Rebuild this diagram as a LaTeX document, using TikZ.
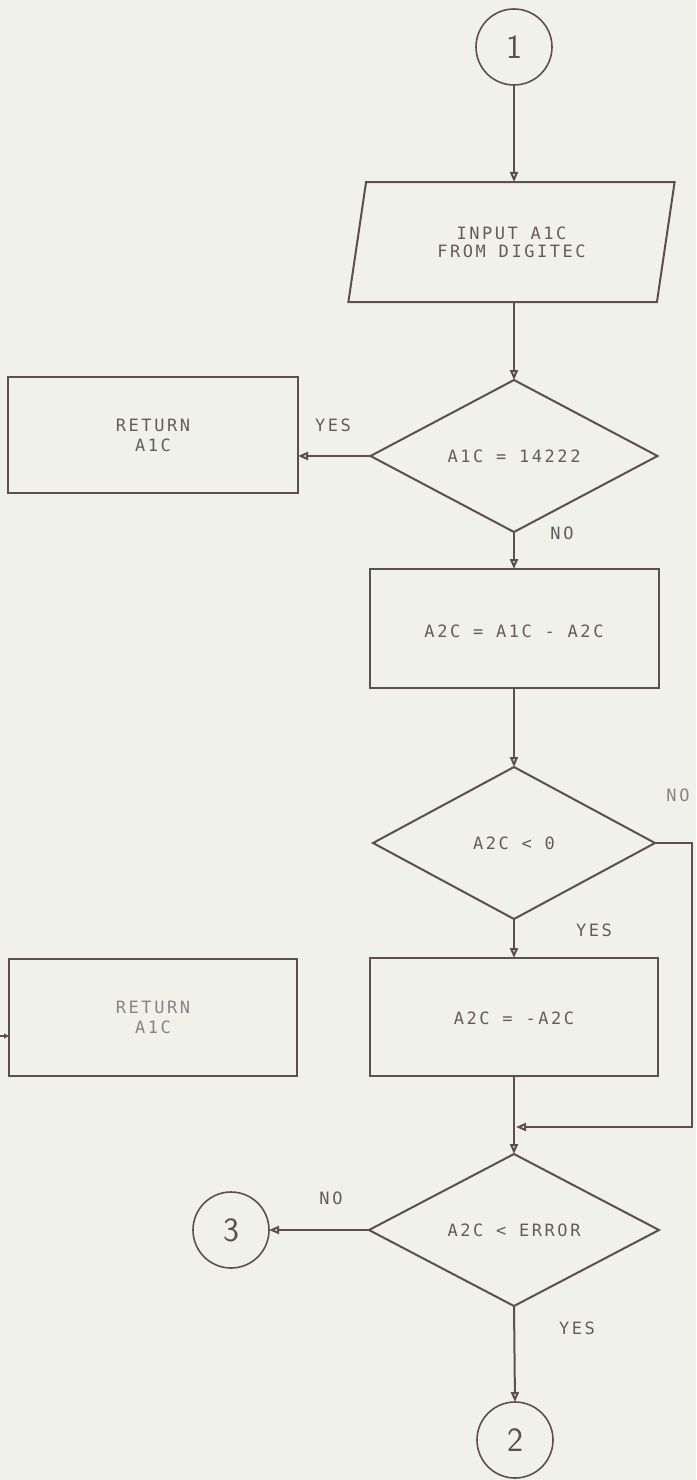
\documentclass[tikz,border=0pt]{standalone}
\usepackage{fontspec}
\usetikzlibrary{shapes.geometric,arrows.meta,calc}
\newfontfamily\dm[LetterSpace=15]{DejaVu Sans Mono}
\definecolor{bg}{HTML}{F1F1EC}
\definecolor{ink}{HTML}{5E4E50}
\definecolor{txt}{HTML}{655B5D}
\definecolor{faded}{HTML}{8A8284}
\tikzset{
  x=1pt, y=-1pt,
  every node/.style={inner sep=0pt, outer sep=0pt},
  conn/.style={circle, draw=ink, line width=1.6pt, minimum size=76pt,
    font=\sffamily\fontsize{34}{34}\selectfont, text=ink},
  proc/.style={rectangle, draw=ink, line width=2pt, align=center,
    font=\dm\fontsize{17}{20}\selectfont, text=txt},
  dec/.style={diamond, draw=ink, line width=2pt, align=center,
    font=\dm\fontsize{17}{20}\selectfont, text=txt},
  io/.style={trapezium, trapezium left angle=73.7, trapezium right angle=106.3,
    trapezium stretches=true, draw=ink, line width=2pt, align=center,
    font=\dm\fontsize{17}{18}\selectfont, text=txt},
  lab/.style={font=\dm\fontsize{17}{20}\selectfont, text=txt},
  arr/.style={draw=ink, line width=2pt,
    -{Triangle[open, length=10pt, width=8pt, fill=bg]}},
  ln/.style={draw=ink, line width=2pt}
}
\begin{document}
\begin{tikzpicture}
\fill[bg] (0,0) rectangle (696,1480);
\useasboundingbox (0,0) rectangle (696,1480);

% nodes
\node[conn] (c1) at (514,47) {1};
\node[io, minimum width=327pt, minimum height=120pt] (inp) at (511.5,242)
  {INPUT A1C\\FROM DIGITEC};
\node[dec, minimum width=287pt, minimum height=152pt] (d1) at (514,456) {A1C = 14222};
\node[proc, minimum width=290pt, minimum height=116pt] (r1) at (153,435) {RETURN\\A1C};
\node[proc, minimum width=289pt, minimum height=119pt] (b2) at (514,628.5)
  {\raisebox{-18pt}{A2C = A1C - A2C}};
\node[dec, minimum width=282pt, minimum height=152pt] (d2) at (514,843) {A2C < 0};
\node[proc, minimum width=288pt, minimum height=118pt] (b3) at (514,1017)
  {\raisebox{-16pt}{A2C = -A2C}};
\node[proc, minimum width=288pt, minimum height=117pt, text=faded] (r2) at (153,1017.5)
  {RETURN\\A1C};
\node[dec, minimum width=290pt, minimum height=152pt] (d3) at (514,1230) {A2C < ERROR};
\node[conn] (c3) at (231,1230) {3};
\node[conn] (c2) at (515,1440) {2};

% labels
\node[lab] (yes1) at (333,425) {YES};
\node[lab] (no1) at (562,533) {NO};
\node[lab, text=faded] (no2) at (678,795) {NO};
\node[lab] (yes2) at (594,930) {YES};
\node[lab] (no3) at (331,1198) {NO};
\node[lab] (yes3) at (577,1328) {YES};

% connectors
\draw[arr] (c1.south) -- (c1.south |- inp.north);
\draw[arr] (d1.north |- inp.south) -- (d1.north);
\draw[arr] (d1.west) -- (d1.west -| r1.east);
\draw[arr] (d1.south) -- (b2.north);
\draw[arr] (b2.south) -- (d2.north);
\draw[arr] (d2.south) -- (b3.north);
\draw[arr] (b3.south) -- (d3.north);
\coordinate (rt) at (692,1127);
\draw[arr] (d2.east) -| (rt) -- ($(rt -| b3.south)+(2,0)$);
\draw[arr] (d3.west) -- (d3.west -| c3.east);
\draw[arr] (d3.south) -- (c2.north);
\coordinate (lin) at (0,1036);
\draw[ln, -{Triangle[length=5pt, width=5pt]}] (lin) -- (lin -| r2.west);
\end{tikzpicture}
\end{document}
